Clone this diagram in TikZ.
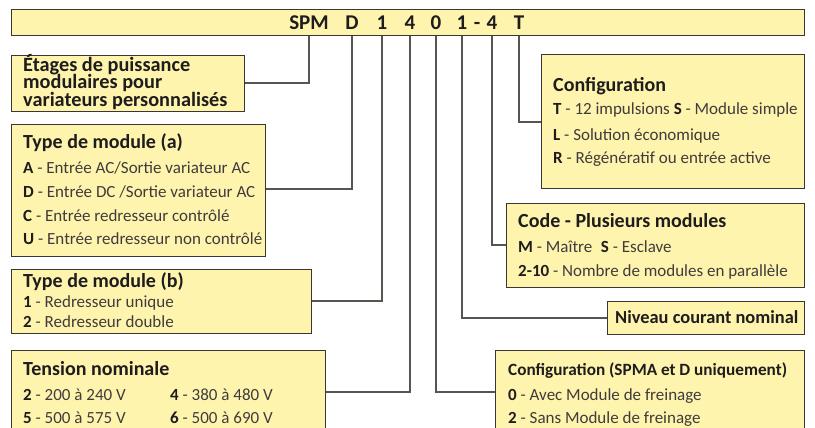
\documentclass[tikz,border=0pt]{standalone}
\usepackage{fontspec}
\setmainfont{Carlito}
\definecolor{boxfill}{RGB}{255,244,174}
\definecolor{boxline}{RGB}{58,54,50}
\definecolor{wirecol}{RGB}{88,84,80}
\definecolor{txt}{RGB}{62,60,60}
\definecolor{ink}{RGB}{30,28,28}
\newcommand\kb[1]{\textcolor{ink}{\bfseries #1}}
\tikzset{
  panel/.style={draw=boxline, fill=boxfill, line width=1.3pt, inner sep=0pt, anchor=north west},
  ln/.style={anchor=base west, inner sep=0pt, text=txt, font=\fontsize{17}{17}\selectfont},
  ttl/.style={anchor=base west, inner sep=0pt, text=ink, font=\fontsize{20}{20}\selectfont\bfseries},
  codech/.style={anchor=base, inner sep=0pt, text=ink, font=\fontsize{21}{21}\selectfont\bfseries},
  wire/.style={draw=wirecol, line width=1.1pt}
}
\begin{document}
\begin{tikzpicture}[x=1pt,y=-1pt]
\clip (0,0) rectangle (815,428);
\fill[white] (0,0) rectangle (815,428);

% junction coordinates on box edges
\coordinate (j1) at (244,83);
\coordinate (j2) at (265,189);
\coordinate (j3) at (311,301);
\coordinate (j4) at (325,392);
\coordinate (j5) at (495,392);
\coordinate (j6) at (607,318);
\coordinate (j7) at (506,245);
\coordinate (j8) at (541,122);

% top bar
\node[panel, minimum width=793pt, minimum height=26pt] (top) at (11,9) {};
\node[codech] (cSPM) at (309,29.5) {SPM};
\node[codech] (cD) at (352,29.5) {D};
\node[codech] (cA) at (382,29.5) {1};
\node[codech] (cV) at (410,29.5) {4};
\node[codech] (cB) at (436,29.5) {0};
\node[codech] (cC) at (462,29.5) {1};
\node[codech] (cH) at (477,29.5) {-};
\node[codech] (cM) at (492,29.5) {4};
\node[codech] (cT) at (519,29.5) {T};

% connectors
\draw[wire] (cSPM |- top.south) |- (j1);
\draw[wire] (cD |- top.south) |- (j2);
\draw[wire] (cA |- top.south) |- (j3);
\draw[wire] (cV |- top.south) |- (j4);
\draw[wire] (cB |- top.south) |- (j5);
\draw[wire] (cC |- top.south) |- (j6);
\draw[wire] (cM |- top.south) |- (j7);
\draw[wire] (cT |- top.south) |- (j8);

% box 1
\node[panel, minimum width=233pt, minimum height=56pt] (b1) at (11,55) {};
\node[ttl, font=\fontsize{20.3}{17.5}\selectfont\bfseries] (b1t) at (23,71.5)
  {\vtop{\lineskiplimit=-30pt\hbox{Étages de puissance}\hbox{modulaires pour}\hbox{variateurs personnalisés}}};

% box 2
\node[panel, minimum width=254pt, minimum height=132pt] (b2) at (11,124) {};
\node[ttl] (b2t) at (23,149) {Type de module (a)};
\node[ln] (b2a) at (23,173) {\kb{A} - Entrée AC/Sortie variateur AC};
\node[ln] (b2d) at (23,197) {\kb{D} - Entrée DC /Sortie variateur AC};
\node[ln] (b2c) at (23,221) {\kb{C} - Entrée redresseur contrôlé};
\node[ln] (b2u) at (23,244) {\kb{U} - Entrée redresseur non contrôlé};

% box 3
\node[panel, minimum width=300pt, minimum height=64pt] (b3) at (11,269) {};
\node[ttl] (b3t) at (23,287) {Type de module (b)};
\node[ln] (b3a) at (23,307) {\kb{1} - Redresseur unique};
\node[ln] (b3b) at (23,327) {\kb{2} - Redresseur double};

% box 4
\node[panel, minimum width=314pt, minimum height=100pt] (b4) at (11,350) {};
\node[ttl] (b4t) at (23,375) {Tension nominale};
\node[ln] (b4a) at (23,400) {\kb{2} - 200 à 240 V};
\node[ln] (b4b) at (170,400) {\kb{4} - 380 à 480 V};
\node[ln] (b4c) at (23,423) {\kb{5} - 500 à 575 V};
\node[ln] (b4d) at (170,423) {\kb{6} - 500 à 690 V};

% right: configuration
\node[panel, minimum width=263pt, minimum height=134pt] (r1) at (541,54) {};
\node[ttl] (r1t) at (553,92) {Configuration};
\node[ln] (r1a) at (553,115) {\kb{T} - 12 impulsions \kb{S} - Module simple};
\node[ln] (r1b) at (553,140) {\kb{L} - Solution économique};
\node[ln] (r1c) at (553,163) {\kb{R} - Régénératif ou entrée active};

% right: code
\node[panel, minimum width=298pt, minimum height=84pt] (r2) at (506,203) {};
\node[ttl] (r2t) at (518,227) {Code - Plusieurs modules};
\node[ln] (r2a) at (518,252) {\kb{M} - Maître\enspace\kb{S} - Esclave};
\node[ln] (r2b) at (518,276) {\kb{2-10} - Nombre de modules en parallèle};

% right: niveau
\node[panel, minimum width=197pt, minimum height=33pt] (r3) at (607,301) {};
\node[ttl, font=\fontsize{18.4}{18.4}\selectfont\bfseries] (r3t) at (615,323) {Niveau courant nominal};

% right: config SPMA
\node[panel, minimum width=309pt, minimum height=100pt] (r4) at (495,350) {};
\node[ttl, font=\fontsize{17.2}{17.2}\selectfont\bfseries] (r4t) at (508,375) {Configuration (SPMA et D uniquement)};
\node[ln] (r4a) at (508,400) {\kb{0} - Avec Module de freinage};
\node[ln] (r4b) at (508,423) {\kb{2} - Sans Module de freinage};
\end{tikzpicture}
\end{document}
